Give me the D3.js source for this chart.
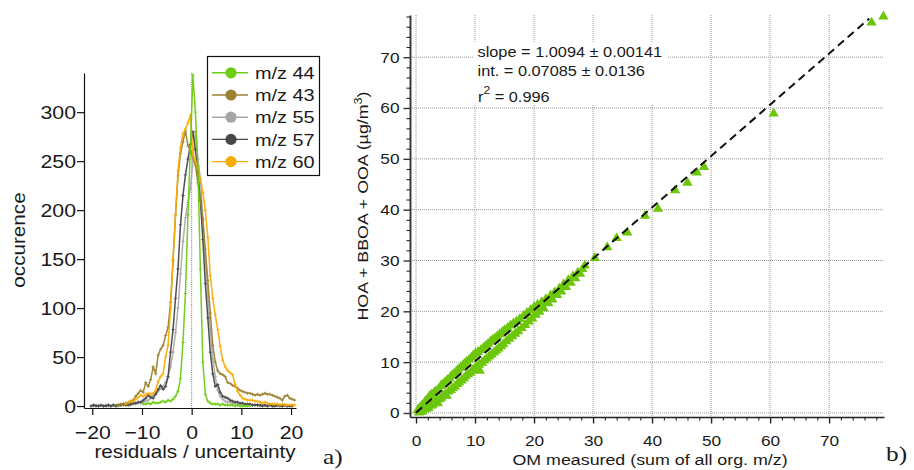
<!DOCTYPE html>
<html><head><meta charset="utf-8">
<script src="https://cdn.jsdelivr.net/npm/d3@7"></script>
<style>
body{margin:0;background:#fff}
svg{display:block}
text{font-family:"Liberation Sans",Arial,Helvetica,sans-serif;fill:#1a1a1a}
</style>
</head><body>
<svg id="c" width="914" height="470"></svg>
<script>
// ---------- Panel a) : histograms of residuals / uncertainty ----------
const seriesNames  = ["m/z 44", "m/z 43", "m/z 55", "m/z 57", "m/z 60"];
const seriesColors = ["#6dcc14", "#9a8232", "#a6a6a6", "#474747", "#fbab05"];
const binStep = 0.5;                       // bin width of the histograms
const mz44Start = -9.75;
const mz44 = [2,2,3,2,4,3,3,4,5,4,6,5,7,10,15,28,65,115,195,265,338,300,245,140,45,12,5,3,2,2,2,1,2,1,1,1,1,0,1,0,0,0,0,0];
const mz43Start = -15.25;
const mz43 = [1,1,2,1,3,3,5,6,10,13,16,14,24,20,27,40,33,52,58,62,72,80,106,148,195,235,258,270,281,266,260,254,246,228,212,190,160,128,95,62,45,36,33,32,30,24,23,21,20,18,16,15,14,13,13,12,11,12,11,12,13,12,12,11,10,9,8,6,10,11,8,7,6];
const mz55Start = -20.25;
const mz55 = [0,0,1,0,0,0,1,0,0,1,0,0,1,1,1,1,1,2,2,3,3,4,5,6,8,11,13,15,18,20,24,30,40,55,75,100,135,168,192,208,222,250,280,252,232,192,150,112,78,48,30,16,10,7,5,4,4,3,3,2,2,2,1,1,1,1,1,1,0,1,0,0,1,0,0,0,1,0,0,0,0,0];
const mz57Start = -20.25;
const mz57 = [0,1,0,0,1,0,0,1,0,1,0,1,1,2,1,1,2,3,3,4,4,6,8,11,9,8,12,17,21,17,20,30,55,78,110,140,185,215,236,252,267,280,262,238,210,170,125,90,55,33,20,22,14,10,9,8,6,5,4,4,3,3,2,2,2,1,1,1,1,0,1,0,1,0,0,1,0,0,1,0,0,0];
const mz60Start = -13.25;
const mz60 = [2,4,5,5,7,9,11,10,12,13,12,13,16,25,30,33,50,62,100,150,195,240,264,278,283,289,297,256,250,243,232,218,200,172,133,110,93,78,61,47,40,36,34,32,22,15,11,8,7,6,6,6,5,5,4,3,4,3,2,2,2,2,1,2,1,1,1,1,1];
const histXTicks = [-20, -10, 0, 10, 20];
const histYTicks = [0, 50, 100, 150, 200, 250, 300];

// ---------- Panel b) : modelled vs measured OM ----------
const omMeasured = [0.3,0.5,0.6,0.8,1.0,1.1,1.3,1.5,1.6,1.8,2.0,2.1,2.3,2.5,2.6,2.8,3.0,3.2,3.3,3.5,3.7,3.8,4.0,4.2,4.3,4.5,4.7,4.9,5.0,5.2,5.3,5.5,5.7,5.9,6.0,6.2,6.4,6.6,6.8,7.0,7.1,7.3,7.5,7.7,7.9,8.1,8.2,8.4,8.6,8.8,9.0,9.2,9.4,9.6,9.7,9.9,10.1,10.3,10.5,10.7,10.8,11.0,11.2,11.4,11.6,11.8,12.0,12.2,12.4,12.6,12.8,13.0,13.2,13.4,13.6,13.8,14.0,14.2,14.4,14.6,14.8,15.0,15.3,15.5,15.8,16.0,16.3,16.5,16.8,17.0,17.3,17.6,17.9,18.2,18.5,18.8,19.1,19.4,19.7,20.0,20.3,20.6,20.9,21.3,21.6,22.0,22.4,22.8,23.1,23.5,23.9,24.3,24.6,25.0,25.4,25.8,26.2,26.6,27.0,27.4,27.8,28.2,28.6,30.3,32.4,34.0,35.8,38.8,41.0,43.9,46.0,47.6,48.8,60.6,77.2,79.2];
const omModelled = [0.6,0.1,1.0,0.3,1.5,0.3,1.8,0.7,2.3,0.9,2.8,1.0,3.3,1.4,3.6,1.6,3.9,2.0,4.3,2.3,1.9,4.7,2.7,5.3,3.0,5.6,3.4,6.0,3.7,3.4,6.5,4.2,6.8,4.5,7.3,4.9,7.7,5.2,8.1,5.7,8.5,6.0,8.9,6.4,9.3,6.8,9.7,7.2,10.1,7.6,10.5,7.9,10.9,8.4,11.3,8.7,11.7,9.1,12.0,9.5,8.3,12.4,9.9,12.8,10.3,13.2,10.7,13.6,11.1,14.0,11.5,14.4,11.9,14.7,12.3,15.1,12.7,15.5,13.1,15.9,13.5,16.3,14.1,16.7,14.6,17.2,15.1,17.6,15.6,18.0,16.1,18.5,16.7,19.1,17.3,19.7,18.0,20.2,18.6,20.8,19.3,21.3,19.9,21.8,20.6,22.4,21.6,23.1,22.3,23.7,23.2,24.5,23.9,25.3,24.8,26.1,25.6,26.9,26.5,27.6,27.4,28.3,29.0,30.5,32.6,34.4,35.5,38.8,40.2,43.8,45.3,47.3,48.4,58.9,76.8,78.0];
const fitSlope = 1.0094, fitIntercept = 0.07085;
const fitRange = [0, 76.8];
const statLines = ["slope = 1.0094 ± 0.00141", "int. = 0.07085 ± 0.0136"];
const rSquared = "0.996";
const omTicks = [0, 10, 20, 30, 40, 50, 60, 70];
const omMinorTicks = [2,4,6,8,12,14,16,18,22,24,26,28,32,34,36,38,42,44,46,48,52,54,56,58,62,64,66,68,72,74,76,78];

// ---------- drawing ----------
const SX = 1.15; // horizontal text stretch to mimic the original font width
const svg = d3.select("#c");

function txt(g, x, y, s, size, anchor, rot, family) {
  const t = g.append("text")
    .attr("transform", `translate(${x},${y})${rot ? ` rotate(${rot})` : ""} scale(${SX},1)`)
    .attr("font-size", size)
    .attr("text-anchor", anchor || "start")
    .text(s);
  if (family) t.style("font-family", family);
  return t;
}
function styleTicks(gAxis, size, tx, ty, dy, anchor) {
  gAxis.selectAll(".tick text")
    .attr("x", 0).attr("y", 0).attr("dy", dy)
    .attr("font-size", size).attr("text-anchor", anchor)
    .attr("fill", "#1a1a1a")
    .attr("transform", `translate(${tx},${ty}) scale(${SX},1)`);
  gAxis.selectAll("text").style("font-family", '"Liberation Sans",Arial,sans-serif');
}

// ===== Panel a =====
const ax = d3.scaleLinear().domain([-21.67, 21.0]).range([84, 296]);
const ay = d3.scaleLinear().domain([-2, 340]).range([408, 73]);
const ga = svg.append("g");

// zero line
ga.append("line").attr("x1", ax(0)).attr("x2", ax(0)).attr("y1", 73).attr("y2", 408)
  .attr("stroke", "#555").attr("stroke-width", 0.8).attr("stroke-dasharray", "1,1.2");

const series = [
  {name: seriesNames[0], color: seriesColors[0], start: mz44Start, vals: mz44},
  {name: seriesNames[1], color: seriesColors[1], start: mz43Start, vals: mz43},
  {name: seriesNames[2], color: seriesColors[2], start: mz55Start, vals: mz55},
  {name: seriesNames[3], color: seriesColors[3], start: mz57Start, vals: mz57},
  {name: seriesNames[4], color: seriesColors[4], start: mz60Start, vals: mz60}
];
const drawOrder = [2, 3, 1, 4, 0];
const line = d3.line().x(d => ax(d[0])).y(d => ay(d[1]));
drawOrder.forEach(k => {
  const s = series[k];
  const pts = s.vals.map((v, i) => [s.start + i * binStep, v]);
  const g = ga.append("g").attr("opacity", k === 2 ? 0.9 : 0.95);
  g.append("path").datum(pts).attr("d", line).attr("fill", "none")
    .attr("stroke", s.color).attr("stroke-width", 1.5).attr("stroke-linejoin", "round");
  g.selectAll("path.m").data(pts).enter().append("path").attr("class", "m")
    .attr("d", d => `M${ax(d[0]) - 1.6},${ay(d[1])}h3.2M${ax(d[0])},${ay(d[1]) - 1.6}v3.2`)
    .attr("stroke", s.color).attr("stroke-width", 0.9);
});

// axes
const gax = ga.append("g").attr("transform", "translate(0,408)")
  .call(d3.axisBottom(ax).tickValues(histXTicks).tickSize(7).tickSizeOuter(0));
const gay = ga.append("g").attr("transform", "translate(84,0)")
  .call(d3.axisLeft(ay).tickValues(histYTicks).tickSize(7).tickSizeOuter(0));
[gax, gay].forEach(g => { g.selectAll("path,line").attr("stroke", "#111").attr("stroke-width", 1.2); });
styleTicks(gax, 18.5, 0, 18, "0.71em", "middle");
styleTicks(gay, 18.5, -8, 0, "0.33em", "end");
txt(ga, 195, 458, "residuals / uncertainty", 18, "middle");
txt(ga, 25, 240, "occurence", 18, "middle", -90);

// legend
const lg = ga.append("g");
lg.append("rect").attr("x", 207.5).attr("y", 56.5).attr("width", 112).attr("height", 119)
  .attr("fill", "#fff").attr("stroke", "#111").attr("stroke-width", 1.2);
series.forEach((s, i) => {
  const yy = 72.8 + i * 22.2;
  lg.append("line").attr("x1", 212).attr("x2", 248).attr("y1", yy).attr("y2", yy)
    .attr("stroke", s.color).attr("stroke-width", 1.4);
  lg.append("circle").attr("cx", 231).attr("cy", yy).attr("r", 5.6).attr("fill", s.color);
  txt(lg, 255, yy + 6.2, s.name, 17.3, "start");
});
txt(ga, 323, 464, "a)", 22, "start", 0, '"Liberation Serif","Times New Roman",serif');

// ===== Panel b =====
const bx = d3.scaleLinear().domain([-1.02, 79.3]).range([410, 884]);
const by = d3.scaleLinear().domain([-0.79, 78.3]).range([417, 15]);
const gb = svg.append("g");

// grid
gb.selectAll("line.gh").data(omTicks).enter().append("line")
  .attr("x1", 410).attr("x2", 884).attr("y1", d => by(d)).attr("y2", d => by(d))
  .attr("stroke", "#9a9a9a").attr("stroke-width", 1).attr("stroke-dasharray", "1,1");
gb.selectAll("line.gv").data(omTicks).enter().append("line")
  .attr("y1", 15).attr("y2", 417).attr("x1", d => bx(d)).attr("x2", d => bx(d))
  .attr("stroke", "#9a9a9a").attr("stroke-width", 1).attr("stroke-dasharray", "1,1");

// scatter
const tri = d3.symbol().type(d3.symbolTriangle).size(46);
gb.selectAll("path.pt").data(omMeasured).enter().append("path")
  .attr("d", tri)
  .attr("transform", (d, i) => `translate(${bx(d)},${by(omModelled[i])})`)
  .attr("fill", "#6cc70a");

// fit line
gb.append("line")
  .attr("x1", bx(fitRange[0])).attr("y1", by(fitSlope * fitRange[0] + fitIntercept))
  .attr("x2", bx(fitRange[1])).attr("y2", by(fitSlope * fitRange[1] + fitIntercept))
  .attr("stroke", "#111").attr("stroke-width", 2).attr("stroke-dasharray", "8,5");

// stats box
gb.append("rect").attr("x", 473).attr("y", 42).attr("width", 194).attr("height", 63).attr("fill", "#fff");
txt(gb, 477.5, 56.7, statLines[0], 14.2, "start");
txt(gb, 477.5, 76, statLines[1], 14.2, "start");
const rt = txt(gb, 478, 101.5, "", 14.2, "start");
rt.append("tspan").text("r");
rt.append("tspan").attr("dy", -8).attr("font-size", 10.5).text("2");
rt.append("tspan").attr("dy", 8).text(" = " + rSquared);

// axes
const gbx = gb.append("g").attr("transform", "translate(0,417)")
  .call(d3.axisBottom(bx).tickValues(omTicks).tickSize(6.5).tickSizeOuter(0));
const gby = gb.append("g").attr("transform", "translate(410,0)")
  .call(d3.axisLeft(by).tickValues(omTicks).tickSize(6.5).tickSizeOuter(0));
gb.append("g").attr("transform", "translate(0,417)")
  .call(d3.axisBottom(bx).tickValues(omMinorTicks).tickSize(3.5).tickFormat("").tickSizeOuter(0))
  .call(g => g.select(".domain").remove())
  .selectAll("line").attr("stroke", "#222").attr("stroke-width", 1.1);
gb.append("g").attr("transform", "translate(410,0)")
  .call(d3.axisLeft(by).tickValues(omMinorTicks).tickSize(3.5).tickFormat("").tickSizeOuter(0))
  .call(g => g.select(".domain").remove())
  .selectAll("line").attr("stroke", "#222").attr("stroke-width", 1.1);
gbx.selectAll("path,line").attr("stroke", "#222").attr("stroke-width", 1.4);
gby.selectAll("path,line").attr("stroke", "#333").attr("stroke-width", 1.4);
gby.select(".domain").attr("stroke-width", 1.9);
styleTicks(gbx, 15, 0, 18, "0.71em", "middle");
styleTicks(gby, 15, -10.5, 0, "0.33em", "end");

txt(gb, 650, 465, "OM measured (sum of all org. m/z)", 15.5, "middle");
const yl = txt(gb, 368, 206, "", 15.5, "middle", -90);
yl.append("tspan").text("HOA + BBOA + OOA (µg/m");
yl.append("tspan").attr("dy", -6.5).attr("font-size", 11).text("3");
yl.append("tspan").attr("dy", 6.5).text(")");
txt(gb, 886, 461, "b)", 22, "start", 0, '"Liberation Serif","Times New Roman",serif');
</script>
</body></html>
